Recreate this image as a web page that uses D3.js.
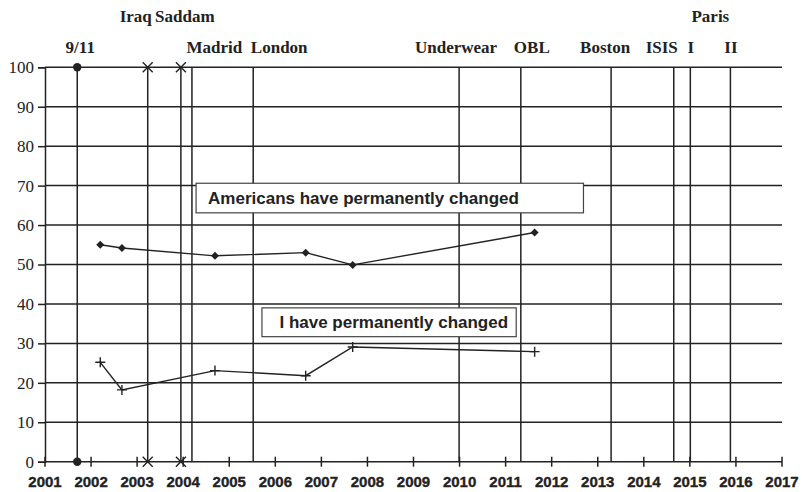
<!DOCTYPE html>
<html>
<head>
<meta charset="utf-8">
<script src="https://cdn.jsdelivr.net/npm/d3@7"></script>
<style>
  body { margin: 0; background: #fff; }
  svg { display: block; }
</style>
</head>
<body>
<div id="chart"></div>
<script>
// survey dates (decimal years) and values
var surveyYears = [2002.2, 2002.67, 2004.69, 2006.66, 2007.68, 2011.63];
var americansChanged = [55, 54.2, 52.2, 53, 49.9, 58.1];
var iChanged = [25.2, 18.2, 23.1, 21.8, 29.1, 27.9];

// events
var eventNames = ["9/11", "Iraq", "Saddam", "Madrid", "London", "Underwear", "OBL", "Boston", "ISIS", "Paris I", "Paris II"];
var eventDates = [2001.70, 2003.23, 2003.95, 2004.19, 2005.52, 2009.99, 2011.33, 2013.29, 2014.65, 2015.01, 2015.88];

var yearTicks = d3.range(2001, 2018);
var valueTicks = d3.range(0, 101, 10);

var width = 802, height = 492,
    ink = "#222";

var svg = d3.select("#chart").append("svg")
    .attr("width", width)
    .attr("height", height);

var x = d3.scaleLinear().domain([2001, 2017]).range([45, 782]);
var y = d3.scaleLinear().domain([0, 100]).range([461.7, 67.3]);

// horizontal grid
svg.append("g")
  .selectAll("line")
  .data(valueTicks)
  .enter().append("line")
    .attr("x1", x(2001))
    .attr("x2", x(2017))
    .attr("y1", function(d) { return y(d); })
    .attr("y2", function(d) { return y(d); })
    .attr("stroke", ink)
    .attr("stroke-width", 1.5);

// y axis
var yAxis = svg.append("g")
    .attr("transform", "translate(" + x(2001) + ",0)")
    .attr("font-family", "'Liberation Serif', 'Times New Roman', serif")
    .call(d3.axisLeft(y).tickValues(valueTicks).tickSize(7).tickPadding(4));
yAxis.attr("font-family", "'Liberation Serif', 'Times New Roman', serif")
    .attr("font-size", 17);
yAxis.select(".domain").attr("stroke", ink).attr("stroke-width", 1.5);
yAxis.selectAll(".tick line").attr("stroke", ink).attr("stroke-width", 1.5);
yAxis.selectAll("text").attr("fill", ink);

// x axis ticks crossing the baseline
svg.append("g")
  .selectAll("line")
  .data(yearTicks)
  .enter().append("line")
    .attr("x1", function(d) { return x(d); })
    .attr("x2", function(d) { return x(d); })
    .attr("y1", y(0) - 5)
    .attr("y2", y(0) + 5)
    .attr("stroke", ink)
    .attr("stroke-width", 1.5);

svg.append("g")
  .selectAll("text")
  .data(yearTicks)
  .enter().append("text")
    .attr("x", function(d) { return x(d); })
    .attr("y", 487)
    .attr("text-anchor", "middle")
    .attr("fill", ink)
    .attr("stroke", ink)
    .attr("stroke-width", 0.35)
    .style("font-family", "'Liberation Sans', Arial, sans-serif")
    .style("font-weight", "bold")
    .style("font-size", "15px")
    .text(function(d) { return d; });

// event lines
svg.append("g")
  .selectAll("line")
  .data(eventDates)
  .enter().append("line")
    .attr("x1", function(d) { return x(d); })
    .attr("x2", function(d) { return x(d); })
    .attr("y1", y(100))
    .attr("y2", y(0))
    .attr("stroke", ink)
    .attr("stroke-width", 1.5);

// event end markers
function eventDate(name) { return eventDates[eventNames.indexOf(name)]; }

[0, 100].forEach(function(v) {
  svg.append("circle")
      .attr("cx", x(eventDate("9/11")))
      .attr("cy", y(v))
      .attr("r", 4.2)
      .attr("fill", ink);
  ["Iraq", "Saddam"].forEach(function(n) {
    svg.append("path")
        .attr("transform", "translate(" + x(eventDate(n)) + "," + y(v) + ")")
        .attr("d", "M-5,-5L5,5M-5,5L5,-5")
        .attr("stroke", ink)
        .attr("stroke-width", 1.4);
  });
});

// event labels: [text, anchor event(s), pixel offset, row]
var labelLayout = [
  ["9/11", ["9/11"], 3, 1],
  ["Iraq", ["Iraq"], -12, 0],
  ["Saddam", ["Saddam"], 4, 0],
  ["Madrid", ["Madrid"], 22.5, 1],
  ["London", ["London"], 26, 1],
  ["Underwear", ["Underwear"], -3, 1],
  ["OBL", ["OBL"], 11, 1],
  ["Boston", ["Boston"], -6, 1],
  ["ISIS", ["ISIS"], -12, 1],
  ["I", ["Paris I"], 0.5, 1],
  ["II", ["Paris II"], 0.5, 1],
  ["Paris", ["Paris I", "Paris II"], 0, 0]
];

svg.append("g")
  .selectAll("text")
  .data(labelLayout)
  .enter().append("text")
    .attr("x", function(d) { return d3.mean(d[1], function(n) { return x(eventDate(n)); }) + d[2]; })
    .attr("y", function(d) { return d[3] == 0 ? 22 : 53; })
    .attr("text-anchor", "middle")
    .attr("fill", ink)
    .style("font-family", "'Liberation Serif', 'Times New Roman', serif")
    .style("font-weight", "bold")
    .style("font-size", "17px")
    .text(function(d) { return d[0]; });

// annotation boxes
function drawBox(x0, x1, v0, v1, label, textYear) {
  svg.append("rect")
      .attr("x", x(x0))
      .attr("y", y(v0))
      .attr("width", x(x1) - x(x0))
      .attr("height", y(v1) - y(v0))
      .attr("fill", "#fff")
      .attr("stroke", "#444")
      .attr("stroke-width", 1.2);
  svg.append("text")
      .attr("x", x(textYear))
      .attr("y", (y(v0) + y(v1)) / 2 + 6)
      .attr("fill", ink)
      .style("font-family", "'Liberation Sans', Arial, sans-serif")
      .style("font-weight", "bold")
      .style("font-size", "17px")
      .text(label);
}
drawBox(2004.28, 2012.69, 70.6, 63.1, "Americans have permanently changed", 2004.54);
drawBox(2005.71, 2011.23, 39.0, 31.7, "I have permanently changed", 2006.09);

// series lines
var line = d3.line()
    .x(function(d) { return x(d[0]); })
    .y(function(d) { return y(d[1]); });

var americansData = d3.zip(surveyYears, americansChanged);
var iData = d3.zip(surveyYears, iChanged);

svg.append("path")
    .datum(americansData)
    .attr("fill", "none")
    .attr("stroke", ink)
    .attr("stroke-width", 1.4)
    .attr("d", line);

svg.append("path")
    .datum(iData)
    .attr("fill", "none")
    .attr("stroke", ink)
    .attr("stroke-width", 1.4)
    .attr("d", line);

svg.append("g")
  .selectAll("path")
  .data(americansData)
  .enter().append("path")
    .attr("transform", function(d) { return "translate(" + x(d[0]) + "," + y(d[1]) + ")"; })
    .attr("d", "M0,-4L4,0L0,4L-4,0Z")
    .attr("fill", ink);

svg.append("g")
  .selectAll("path")
  .data(iData)
  .enter().append("path")
    .attr("transform", function(d) { return "translate(" + x(d[0]) + "," + y(d[1]) + ")"; })
    .attr("d", "M-5,0L5,0M0,-5L0,5")
    .attr("stroke", ink)
    .attr("stroke-width", 1.4);
</script>
</body>
</html>
